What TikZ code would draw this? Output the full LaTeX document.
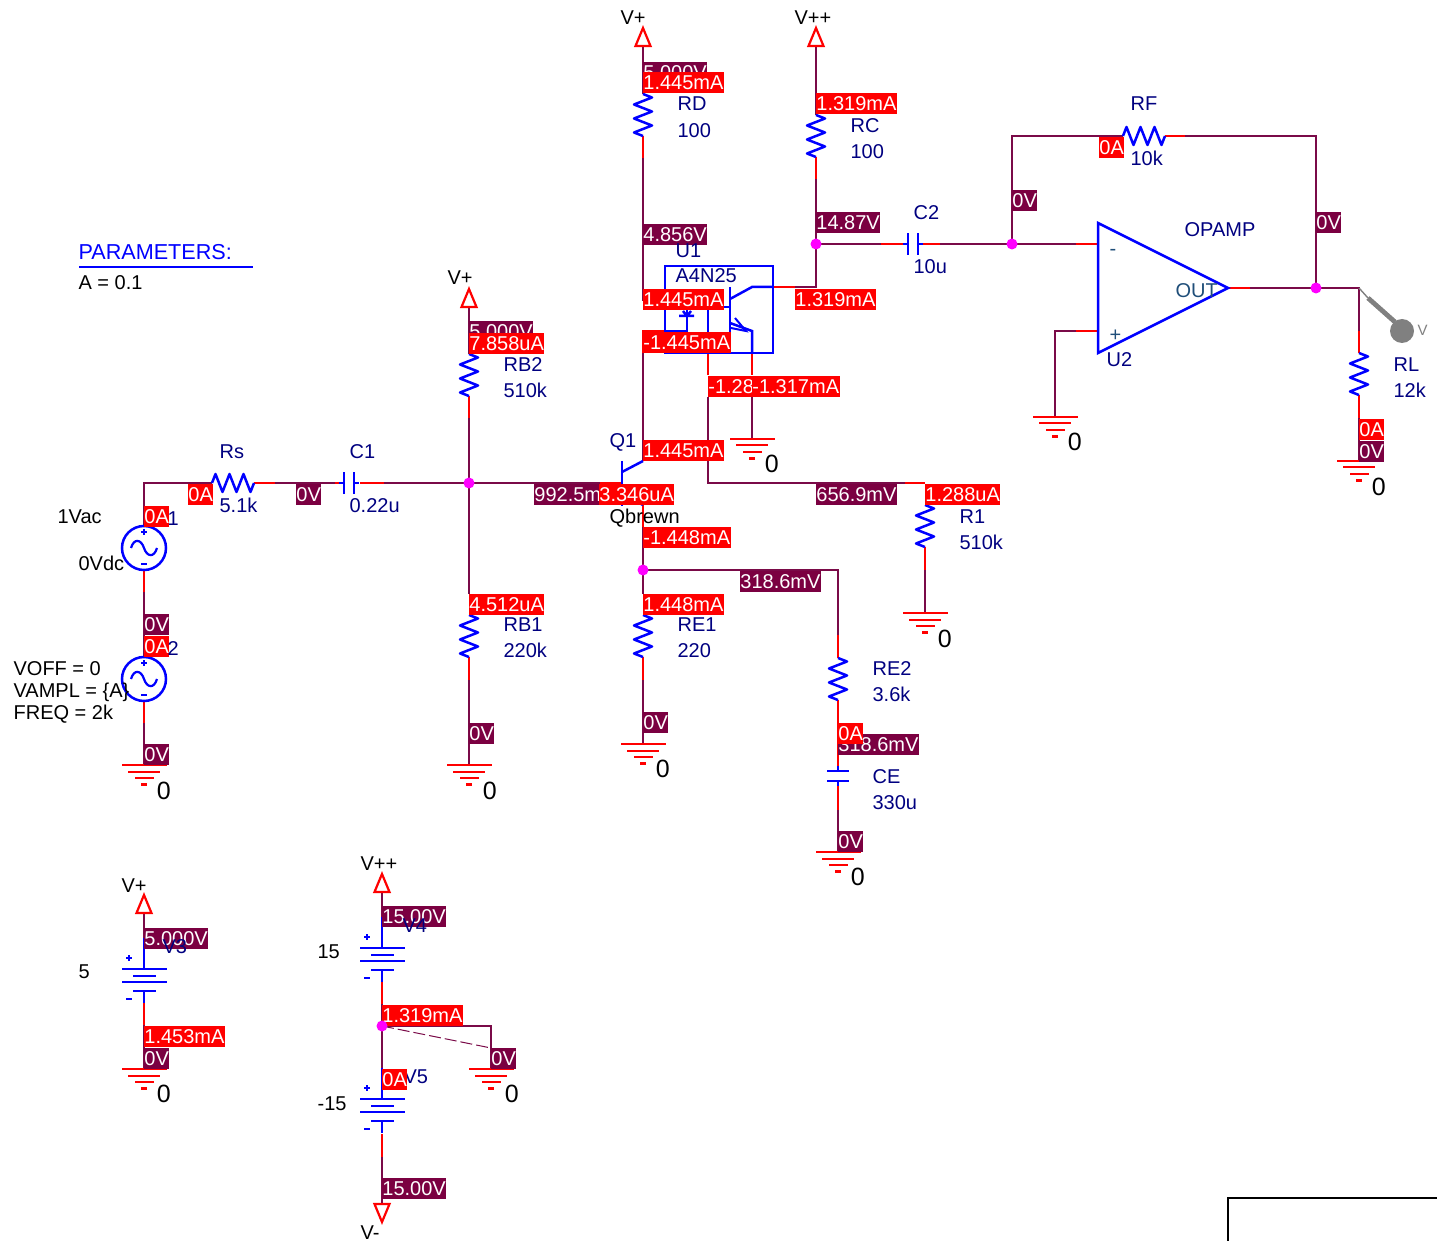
\documentclass[tikz,border=0pt]{standalone}
\usepackage{fontspec}
\setmainfont{Liberation Sans}
\definecolor{wmar}{HTML}{7A0A48}
\definecolor{bmar}{HTML}{7B0041}
\definecolor{lnavy}{HTML}{000080}
\definecolor{pgray}{HTML}{808080}
\definecolor{outc}{HTML}{1F4E79}
\definecolor{jmag}{HTML}{FF00FF}
\definecolor{pred}{HTML}{FF0000}
\definecolor{pblue}{HTML}{0000FF}
\tikzset{
  wm/.style={draw=wmar,line width=1pt,line join=miter},
  wr/.style={draw=pred,line width=1pt},
  bl/.style={draw=pblue,line width=1.25pt},
  vbox/.style={fill=bmar,text=white,anchor=north west,xshift=-0.2pt,inner xsep=0.2pt,inner ysep=0pt,minimum height=10.5pt,text height=7pt,text depth=0.4pt,font=\fontsize{10}{12}\selectfont},
  ibox/.style={vbox,fill=pred},
  lb/.style={anchor=west,xshift=-0.4pt,inner sep=0pt,text height=7.2pt,text depth=0pt,font=\fontsize{10}{12}\selectfont},
  lab/.style={lb,text=lnavy},
  blk/.style={lb,text=black},
  gz/.style={blk,xshift=0.1pt,font=\fontsize{12.5}{14}\selectfont,text height=9pt},
  junc/.style={fill=jmag,draw=none},
  res/.pic={\draw[bl,line join=round] (0,0) -- (9,3.5) -- (-9,10.5) -- (9,17.5) -- (-9,24.5) -- (9,31.5) -- (-9,38.5) -- (0,42);},
  capv/.pic={\draw[bl] (0,-5) -- (0,0) (-11,0) -- (11,0) (-11,10) -- (11,10) (0,10) -- (0,15);},
  gnd/.pic={\draw[draw=pred,line width=1pt] (-22,0) -- (23,0) (-16,6.5) -- (16,6.5) (-9,13) -- (10,13);
    \draw[draw=pred,line width=1.2pt] (-3,19.5) -- (3,19.5);},
  upflag/.pic={\draw[draw=pred,line width=1.1pt,line join=miter] (0,0) -- (7.5,18) -- (-7.5,18) -- cycle;},
  dnflag/.pic={\draw[draw=pred,line width=1.1pt,line join=miter] (0,18) -- (7.5,0) -- (-7.5,0) -- cycle;},
  acsrc/.pic={\draw[bl] (0,0) circle (22);
    \draw[draw=pblue,line width=1.1pt] (-13,0) .. controls (-10,-10) and (-3,-9) .. (0,0) .. controls (3,9) and (10,10) .. (13,0);
    \draw[draw=pblue,line width=1pt] (-3,-16) -- (3,-16) (0,-19) -- (0,-13) (-3,16) -- (3,16);},
  batt/.pic={\draw[bl] (-22,0) -- (23,0) (-11,7) -- (12,7) (-22,13) -- (23,13) (-11,22) -- (12,22) (0,-31) -- (0,0) (0,22) -- (0,34);
    \draw[draw=pblue,line width=1.1pt] (-18,-11) -- (-12,-11) (-15,-14) -- (-15,-8) (-18,30) -- (-12,30);},
}
\newcommand\vb[3]{\node[vbox] (#1) at (#2) {#3};}
\newcommand\ib[3]{\node[ibox] (#1) at (#2) {#3};}
\newcommand\lbn[3]{\node[lab] (#1) at (#2) {#3};}
\newcommand\lbk[3]{\node[blk] (#1) at (#2) {#3};}
\newcommand\lbz[2]{\node[gz] (#1) at (#2) {0};}
\begin{document}
\begin{tikzpicture}[x=0.5pt,y=-0.5pt]
\useasboundingbox (0,0) rectangle (1437,1241);
\foreach \n/\x/\y in {
 fa/643/28, fb/643/46, rdt/643/94, rdb/643/136, rdr/643/158, rde/643/300, ledi/665/300,
 lca/665/331, lcb/643/331, lcc/643/353, qc/643/461, qe/643/505, qer/643/527, jq/643/570, re1i/643/594, re1t/643/615, re1b/643/657, re1r/643/680, re1g/643/744,
 jqr/838/570, re2r/838/635, re2t/838/658, re2b/838/700, cet/838/771, ceb/838/786, cer/838/810, ceg/838/852,
 ga/816/28, gb/816/46, rct/816/115, rcb/816/157, rcr/816/179, j14/816/244, opc/816/287, opr/795/287, opb/773/287,
 c2a/881/244, c2p/908/244, c2q/923/244, c2r/940/244, jf/1012/244, invr/1076/244, inv/1098/244,
 ft/1012/136, rfl/1123/136, rfr/1165/136, rfs/1185/136, fr/1316/136, jo/1316/288, oo/1228/288, oor/1250/288, rlj/1359/288,
 rls/1359/331, rlt/1359/353, rlb/1359/395, rlr/1359/418, rlg/1359/461,
 npi/1098/331, npr/1076/331, npc/1055/331, npg/1055/417,
 eo1/708/353, eo2/708/375, eo3/708/397, eo4/708/483, r1s/905/483, r1c/925/483, r1t/925/505, r1b/925/547, r1r/925/570, r1g/925/613,
 em1/752/353, em2/752/375, em3/752/397, emg/752/439,
 sq/144/483, s1t/144/527, s1b/144/570, s1r/144/592, s2t/144/657, s2b/144/701, s2r/144/723, s2g/144/765,
 rsl/212/483, rsr/254/483, rss/275/483, c1a/335/483, c1p/344/483, c1q/360/483, c1r/384/483,
 jb/469/483, bflag/469/307, rb2t/469/354, rb2b/469/396, rb2r/469/418, rb1s/469/594, rb1t/469/615, rb1b/469/657, rb1r/469/680, rb1g/469/765,
 qb/622/483, qbr/600/483,
 v3f/144/913, v3a/144/938, v3b/144/1003, v3r/144/1025, v3g/144/1069,
 v4f/382/892, v4a/382/917, v4b/382/982, v4r/382/1004, j4/382/1026, j4c/491/1026, j4g/491/1069, j4d/491/1048, v5a/382/1087, v5b/382/1134, v5r/382/1157, v5g/382/1204,
 prs/1368/298, prt/1395/322
}{\coordinate (\n) at (\x,\y);}

% ---- maroon wires
\draw[wm] (fb) -- (rdt);
\draw[wm] (rdr) -- (rde) -- (ledi);
\draw[wm] (lcc) -- (qc);
\draw[wm] (qer) -- (jq) -- (re1i);
\draw[wm] (re1r) -- (re1g);
\draw[wm] (jq) -- (jqr) -- (re2r);
\draw[wm] (cer) -- (ceg);
\draw[wm] (gb) -- (rct);
\draw[wm] (rcr) -- (opc) -- (opr);
\draw[wm] (j14) -- (c2a);
\draw[wm] (c2r) -- (invr);
\draw[wm] (jf) -- (ft) -- (rfl);
\draw[wm] (rfs) -- (fr) -- (jo);
\draw[wm] (oor) -- (rlj) -- (rls);
\draw[wm] (rlr) -- (rlg);
\draw[wm] (npr) -- (npc) -- (npg);
\draw[wm] (eo3) -- (eo4) -- (r1s);
\draw[wm] (r1r) -- (r1g);
\draw[wm] (em3) -- (emg);
\draw[wm] (s1t) -- (sq) -- (rsl);
\draw[wm] (s1r) -- (s2t);
\draw[wm] (s2r) -- (s2g);
\draw[wm] (rss) -- (c1a);
\draw[wm] (c1r) -- (qbr);
\draw[wm] (bflag) -- (rb2t);
\draw[wm] (rb2r) -- (rb1s);
\draw[wm] (rb1r) -- (rb1g);
\draw[wm] (v3f) -- (v3a);
\draw[wm] (v3r) -- (v3g);
\draw[wm] (v4f) -- (v4a);
\draw[wm] (v4r) -- (v5a);
\draw[wm] (j4) -- (j4c) -- (j4g);
\draw[wm,line width=0.5pt,dash pattern=on 6pt off 2pt] (j4) -- (j4d);
\draw[wm] (v5r) -- (v5g);
% ---- red stubs
\draw[wr] (rdb) -- (rdr);
\draw[wr] (lca) -- (lcb) -- (lcc);
\draw[wr] (qe) -- (qer);
\draw[wr] (re1b) -- (re1r);
\draw[wr] (re2r) -- (re2t);
\draw[wr] (re2b) -- (cet);
\draw[wr] (ceb) -- (cer);
\draw[wr] (rcb) -- (rcr);
\draw[wr] (opb) -- (opr);
\draw[wr] (c2a) -- (c2p);
\draw[wr] (c2q) -- (c2r);
\draw[wr] (invr) -- (inv);
\draw[wr] (rfr) -- (rfs);
\draw[wr] (oo) -- (oor);
\draw[wr] (rls) -- (rlt);
\draw[wr] (rlb) -- (rlr);
\draw[wr] (npi) -- (npr);
\draw[wr] (eo1) -- (eo2);
\draw[wr] (r1s) -- (r1c);
\draw[wr] (r1b) -- (r1r);
\draw[wr] (em1) -- (em2);
\draw[wr] (s1b) -- (s1r);
\draw[wr] (s2b) -- (s2r);
\draw[wr] (rsr) -- (rss);
\draw[wr] (c1a) -- (c1p);
\draw[wr] (c1q) -- (c1r);
\draw[wr] (rb2b) -- (rb2r);
\draw[wr] (rb1b) -- (rb1r);
\draw[wr] (qbr) -- (qb);
\draw[wr] (v3b) -- (v3r);
\draw[wr] (v4b) -- (v4r);
\draw[wr] (v5b) -- (v5r);

% ---- resistors
\pic at (rdt) {res}; \pic at (rct) {res}; \pic at (rb2t) {res}; \pic at (rb1t) {res};
\pic at (re1t) {res}; \pic at (re2t) {res}; \pic at (r1t) {res}; \pic at (rlt) {res};
\pic[rotate=90] at (rfl) {res};
\pic[rotate=90] at (rsl) {res};
% ---- capacitors
\pic at (cet) {capv};
\pic[rotate=90] at (c1p) {capv};
\pic[rotate=90] at (c2p) {capv};
% ---- grounds and flags
\foreach \g in {re1g,ceg,npg,rlg,r1g,emg,s2g,rb1g,v3g,j4g}{\pic at (\g) {gnd};}
\pic at (fa) {upflag};
\pic at (ga) {upflag};
\coordinate (bf0) at (469,289); \pic at (bf0) {upflag};
\coordinate (v3f0) at (144,895); \pic at (v3f0) {upflag};
\coordinate (v4f0) at (382,874); \pic at (v4f0) {upflag};
\pic at (v5g) {dnflag};
% ---- sources and batteries
\coordinate (v1c) at (144,548); \pic at (v1c) {acsrc};
\coordinate (v2c) at (144,679); \pic at (v2c) {acsrc};
\coordinate (v3p) at (144,969); \pic at (v3p) {batt};
\coordinate (v4p) at (382,948); \pic at (v4p) {batt};
\coordinate (v5p) at (382,1099); \pic at (v5p) {batt};
% ---- opamp
\draw[bl,line join=miter] (1098,223) -- (1228,288) -- (1098,353) -- cycle;
% ---- Q1
\draw[bl] (622,461) -- (622,506);
\draw[bl] (622,472) -- (qc);
\draw[bl] (622,494) -- (qe);
% ---- U1
\draw[bl] (665,266) rectangle (773,353);
\draw[bl] (lca) -- (687,331) -- (687,310);
\draw[bl] (679,316) -- (694,316) (683,311) -- (687,316) -- (691,311);
\draw[bl] (708,310) -- (eo1);
\draw[bl] (708,307) -- (730,307);
\draw[bl] (730,287) -- (730,332);
\draw[bl] (730,299) -- (752,287) -- (opb);
\draw[bl] (730,323) -- (752,331) -- (em1);
\draw[bl,line width=1pt] (735,318) -- (746,331) -- (731,328);
% ---- probe
\draw[draw=pgray,line width=0.7pt] (rlj) -- (prs);
\draw[draw=pgray,line width=2.4pt] (prs) -- (prt);
\fill[pgray] (1402,331) circle (12);
\node[lb,text=pgray,font=\fontsize{7.5}{9}\selectfont,text height=5.5pt] (vprobe) at (1418,330) {V};
% ---- page border fragment
\draw[black,line width=1pt] (1228,1241) -- (1228,1198) -- (1437,1198);
% ---- parameters
\node[lb,text=pblue,font=\fontsize{10.8}{13}\selectfont] (par) at (79,252) {PARAMETERS:};
\draw[draw=pblue,line width=1.25pt] (79,267) -- (253,267);
\lbk{pa}{79,282}{A = 0.1}
\lbn{v5l}{404,1076}{V5}

% ---- voltage boxes
\vb{b01}{643,62}{5.000V}
\vb{b02}{643,224}{4.856V}
\vb{b03}{816,212}{14.87V}
\vb{b04}{1012,190}{0V}
\vb{b05}{1316,212}{0V}
\vb{b06}{1359,441}{0V}
\vb{b07}{469,321}{5.000V}
\vb{b08}{534,484}{992.5mV}
\vb{b09}{816,484}{656.9mV}
\vb{b10}{740,571}{318.6mV}
\vb{b11}{296,484}{0V}
\vb{b12}{144,614}{0V}
\vb{b13}{144,744}{0V}
\vb{b14}{469,723}{0V}
\vb{b15}{643,712}{0V}
\vb{b16}{838,734}{318.6mV}
\vb{b17}{838,831}{0V}
\vb{b18}{144,928}{5.000V}
\vb{b19}{144,1048}{0V}
\vb{b20}{382,906}{15.00V}
\vb{b21}{491,1048}{0V}
\vb{b22}{382,1178}{15.00V}
% ---- current boxes
\ib{i01}{643,72}{1.445mA}
\ib{i02}{816,93}{1.319mA}
\ib{i03}{1099,137}{0A}
\ib{i04}{643,289}{1.445mA}
\ib{i05}{795,289}{1.319mA}
\ib{i06}{643,332}{-1.445mA}
\ib{i07}{708,376}{-1.28}
\ib{i08}{752,376}{-1.317mA}
\ib{i09}{469,333}{7.858uA}
\ib{i10}{643,440}{1.445mA}
\ib{i11}{599,484}{3.346uA}
\ib{i12}{925,484}{1.288uA}
\ib{i13}{188,484}{0A}
\ib{i14}{144,506}{0A}
\ib{i15}{643,527}{-1.448mA}
\ib{i16}{469,594}{4.512uA}
\ib{i17}{643,594}{1.448mA}
\ib{i18}{144,636}{0A}
\ib{i19}{838,723}{0A}
\ib{i20}{1359,419}{0A}
\ib{i21}{144,1026}{1.453mA}
\ib{i22}{382,1005}{1.319mA}
\ib{i23}{382,1069}{0A}
% ---- component labels
\lbn{l01}{678,103}{RD}  \lbn{l02}{678,130}{100}
\lbn{l03}{851,125}{RC}  \lbn{l04}{851,151}{100}
\lbn{l05}{1131,103}{RF} \lbn{l06}{1131,158}{10k}
\lbn{l07}{914,212}{C2}  \lbn{l08}{914,266}{10u}
\lbn{l09}{676,250}{U1}  \lbn{l10}{676,275}{A4N25}
\lbn{l11}{1185,229}{OPAMP} \lbn{l12}{1107,359}{U2}
\lbn{l13}{504,364}{RB2} \lbn{l14}{504,390}{510k}
\lbn{l15}{504,624}{RB1} \lbn{l16}{504,650}{220k}
\lbn{l17}{678,624}{RE1} \lbn{l18}{678,650}{220}
\lbn{l19}{873,668}{RE2} \lbn{l20}{873,694}{3.6k}
\lbn{l21}{873,776}{CE}  \lbn{l22}{873,802}{330u}
\lbn{l23}{960,516}{R1}  \lbn{l24}{960,542}{510k}
\lbn{l25}{1394,364}{RL} \lbn{l26}{1394,390}{12k}
\lbn{l27}{220,451}{Rs}  \lbn{l28}{220,505}{5.1k}
\lbn{l29}{350,451}{C1}  \lbn{l30}{350,505}{0.22u}
\lbn{l31}{610,440}{Q1}  \lbn{l32}{168,518}{1}
\lbn{l33}{168,648}{2}   \lbn{l34}{163,946}{V3}
\lbn{l35}{403,925}{V4}
\node[lb,text=outc] (l36) at (1176,290) {OUT};
\node[lb,text=outc] (l37) at (1110,248) {-};
\node[lb,text=outc] (l38) at (1110,334) {+};
\lbk{k01}{621,17}{V+}   \lbk{k02}{795,17}{V++}
\lbk{k03}{448,277}{V+}  \lbk{k04}{122,885}{V+}
\lbk{k05}{361,863}{V++} \lbk{k06}{361,1232}{V-}
\lbk{k07}{610,516}{Qbrewn}
\lbk{k08}{58,516}{1Vac} \lbk{k09}{79,563}{0Vdc}
\lbk{k10}{14,668}{VOFF = 0} \lbk{k11}{14,690}{VAMPL = \{A\}} \lbk{k12}{14,712}{FREQ = 2k}
\lbk{k13}{79,971}{5} \lbk{k14}{318,951}{15} \lbk{k15}{318,1103}{-15}
\lbz{z01}{157,790} \lbz{z02}{483,790} \lbz{z03}{656,768}
\lbz{z04}{851,876} \lbz{z05}{938,638} \lbz{z06}{765,464}
\lbz{z07}{1068,442} \lbz{z08}{1372,486} \lbz{z09}{157,1093} \lbz{z10}{505,1093}
% ---- junctions
\foreach \j in {j14,jf,jo,jb,jq,j4}{\fill[junc] (\j) circle (5.5);}
\end{tikzpicture}
\end{document}
